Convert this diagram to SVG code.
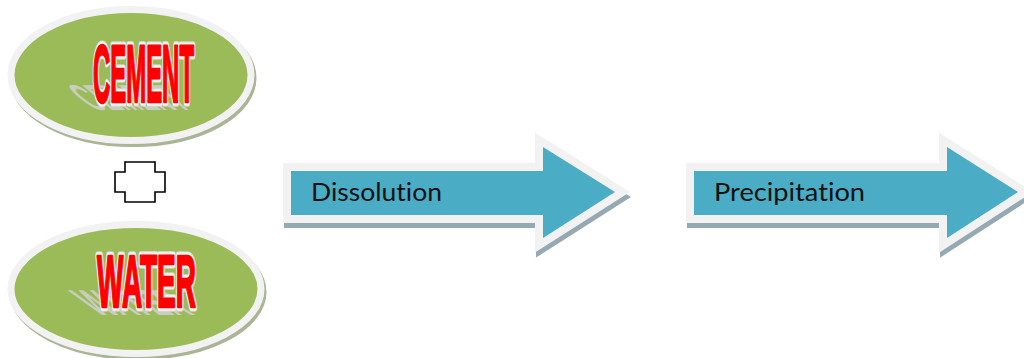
<svg xmlns="http://www.w3.org/2000/svg" width="1024" height="358" viewBox="0 0 1024 358">
<defs>
<style>
.ell{fill:#9BBB59;stroke:#F2F2F2;stroke-width:7}
.ellsh{fill:#A9B595;stroke:#A9B595;stroke-width:7}
.big{font-family:"Liberation Sans",Arial,sans-serif;font-weight:bold}
.bigout{fill:#FF0000;stroke:#DCDCDC;stroke-width:9;stroke-linejoin:round}
.bigwhite{fill:#FF0000;stroke:#F4F4F4;stroke-width:7;stroke-linejoin:round}
.bigred{fill:#FF0000;stroke:#FF0000;stroke-width:2.6;stroke-linejoin:round}
.bigsh{fill:#C9CDBF}
.arsh{fill:#94A9B1;stroke:#94A9B1;stroke-width:16;stroke-linejoin:miter}
.ar{fill:#4BACC6;stroke:#F2F2F2;stroke-width:16;stroke-linejoin:miter;paint-order:stroke}
.lbl{font-family:Lato,"Open Sans","Liberation Sans",sans-serif;font-size:25.5px;fill:#111111;font-variant-ligatures:none;font-feature-settings:"liga" 0}
</style>
</defs>
<g id="cement">
<ellipse class="ellsh" cx="133" cy="78" rx="120" ry="65.5"/>
<ellipse class="ell" cx="131" cy="75" rx="120" ry="65.5"/>
<text class="big bigsh" x="0" y="0" font-size="80" textLength="101" lengthAdjust="spacingAndGlyphs" transform="translate(93,110) skewX(50) scale(1,0.45)">CEMENT</text>
<text class="big bigout" x="93" y="102" font-size="82" textLength="101" lengthAdjust="spacingAndGlyphs">CEMENT</text>
<text class="big bigwhite" x="93" y="102" font-size="82" textLength="101" lengthAdjust="spacingAndGlyphs">CEMENT</text>
<text class="big bigred" x="93" y="102" font-size="82" textLength="101" lengthAdjust="spacingAndGlyphs">CEMENT</text>
</g>
<g id="plus">
<path d="M125,162 H155 V172 H165 V192 H155 V202 H125 V192 H115 V172 H125 Z" fill="#FFFFFF" stroke="#000000" stroke-width="1.6"/>
</g>
<g id="water">
<ellipse class="ellsh" cx="138" cy="292" rx="125" ry="64.5"/>
<ellipse class="ell" cx="136" cy="289" rx="125" ry="64.5"/>
<text class="big bigsh" x="0" y="0" font-size="72" textLength="99" lengthAdjust="spacingAndGlyphs" transform="translate(97,315) skewX(50) scale(1,0.5)">WATER</text>
<text class="big bigout" x="97" y="307" font-size="74" textLength="99" lengthAdjust="spacingAndGlyphs">WATER</text>
<text class="big bigwhite" x="97" y="307" font-size="74" textLength="99" lengthAdjust="spacingAndGlyphs">WATER</text>
<text class="big bigred" x="97" y="307" font-size="74" textLength="99" lengthAdjust="spacingAndGlyphs">WATER</text>
</g>
<g id="connectors">
<g id="dissolution">
<polygon class="arsh" transform="translate(1,5)" points="291,171 543,171 543,147 615,192 543,238 543,215 291,215"/>
<polygon class="ar" points="291,171 543,171 543,147 615,192 543,238 543,215 291,215"/>
<text class="lbl" x="311" y="201" textLength="131" lengthAdjust="spacingAndGlyphs">Dissolution</text>
</g>
<g id="precipitation">
<polygon class="arsh" transform="translate(1,5)" points="694,171 947,171 947,147 1018,192 947,238 947,215 694,215"/>
<polygon class="ar" points="694,171 947,171 947,147 1018,192 947,238 947,215 694,215"/>
<text class="lbl" x="714" y="201" textLength="151" lengthAdjust="spacingAndGlyphs">Precipitation</text>
</g>
</g>
</svg>
